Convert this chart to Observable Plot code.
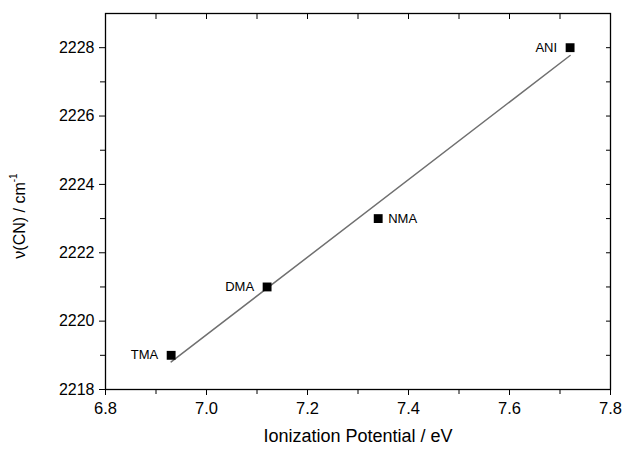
<!DOCTYPE html>
<html><head><meta charset="utf-8">
<script src="https://cdn.jsdelivr.net/npm/d3@7"></script>
<script src="https://cdn.jsdelivr.net/npm/@observablehq/plot@0.6"></script>
<style>body{margin:0;background:#fff}</style>
</head><body><div id="chart"></div>
<script>
const names = ["TMA", "DMA", "NMA", "ANI"];
const ionization = [6.93, 7.12, 7.34, 7.72];
const nuCN = [2219, 2221, 2223, 2228];
const xMajor = [6.8, 7.0, 7.2, 7.4, 7.6, 7.8];
const xMinor = [6.9, 7.1, 7.3, 7.5, 7.7];
const yMajor = [2218, 2220, 2222, 2224, 2226, 2228];
const yMinor = [2219, 2221, 2223, 2225, 2227];
const xTitle = "Ionization Potential / eV";

const data = names.map((n, i) => ({name: n, ip: ionization[i], nu: nuCN[i]}));
const leftLabels = data.filter(d => d.name !== "NMA");
const rightLabels = data.filter(d => d.name === "NMA");
const blank = () => "";

const plot = Plot.plot({
  width: 624, height: 450,
  marginLeft: 105, marginRight: 14, marginTop: 13, marginBottom: 61,
  style: {fontFamily: "'Liberation Sans', Arial, sans-serif", background: "#fff", color: "#000"},
  x: {domain: [6.8, 7.8]},
  y: {domain: [2218, 2229]},
  marks: [
    Plot.linearRegressionY(data, {x: "ip", y: "nu", ci: 0, stroke: "#707070", strokeWidth: 1.5}),
    Plot.dot(data, {x: "ip", y: "nu", symbol: "square", fill: "black", r: 5}),
    Plot.text(leftLabels, {x: "ip", y: "nu", text: "name", textAnchor: "end", dx: -13, fontSize: 13}),
    Plot.text(rightLabels, {x: "ip", y: "nu", text: "name", textAnchor: "start", dx: 10, fontSize: 13}),
    Plot.frame({stroke: "black", strokeWidth: 1.3}),
    Plot.axisX({ticks: xMajor, tickSize: 6, tickPadding: 7, fontSize: 16.5, tickFormat: d3.format(".1f"), label: null}),
    Plot.axisX({ticks: xMinor, tickSize: 5, tickFormat: blank, label: null}),
    Plot.axisX({anchor: "top", ticks: xMajor.concat(xMinor), tickSize: 5, insetTop: 5, tickFormat: blank, label: null}),
    Plot.axisY({ticks: yMajor, tickSize: 6, tickPadding: 5, fontSize: 16, tickFormat: d3.format("d"), label: null}),
    Plot.axisY({ticks: yMinor, tickSize: 5, tickFormat: blank, label: null}),
    Plot.axisY({anchor: "right", ticks: yMajor.concat(yMinor), tickSize: 5, insetRight: 5, tickFormat: blank, label: null}),
    Plot.text([xTitle], {frameAnchor: "bottom", dy: 52, fontSize: 18})
  ]
});
document.getElementById("chart").appendChild(plot);

const svg = d3.select(plot);
const yl = svg.append("text")
  .attr("transform", "translate(25,216) rotate(-90)")
  .attr("text-anchor", "middle")
  .attr("font-size", 16)
  .attr("font-family", "'Liberation Sans', Arial, sans-serif")
  .attr("fill", "black");
yl.append("tspan").text("\u03bd(CN) / cm");
yl.append("tspan").attr("font-size", 10).attr("dy", -8).text("-1");
</script>
</body></html>
